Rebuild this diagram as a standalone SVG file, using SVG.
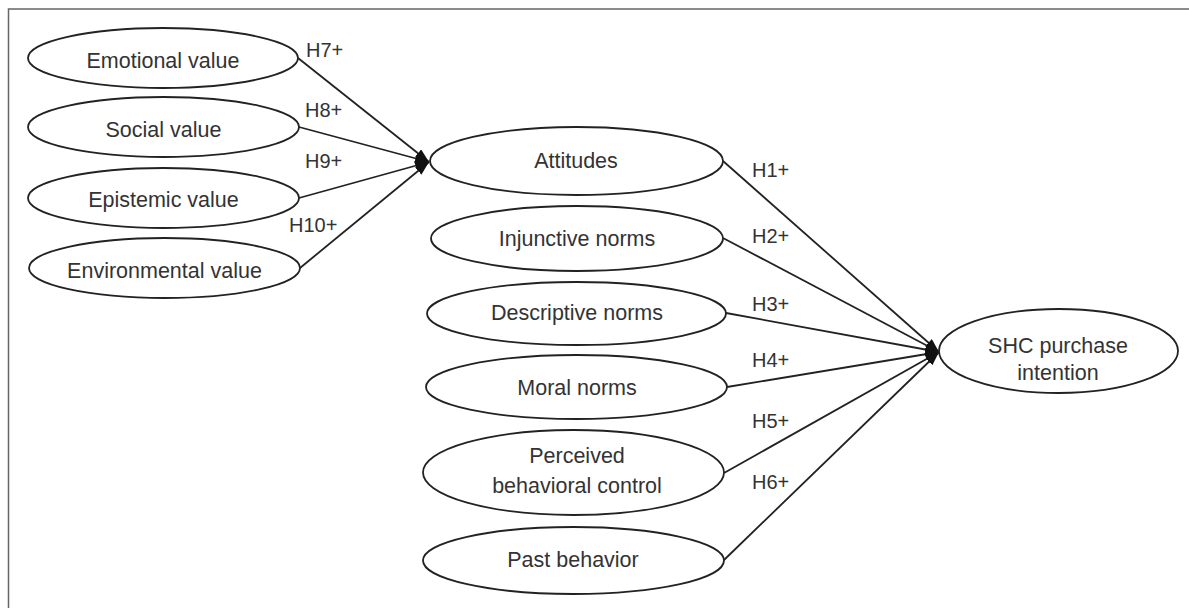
<svg xmlns="http://www.w3.org/2000/svg" width="1189" height="608" viewBox="0 0 1189 608">
<style>
.node ellipse{fill:#fff;stroke:#222;stroke-width:1.8}
.node text{font-family:"Liberation Sans",Arial,sans-serif;font-size:21.5px;fill:#333;text-anchor:middle}
.lbl{font-family:"Liberation Sans",Arial,sans-serif;font-size:20px;fill:#333}
.conn line{stroke:#222;stroke-width:1.8;marker-end:url(#arr)}
</style>
<defs>
<marker id="arr" markerUnits="userSpaceOnUse" markerWidth="16" markerHeight="12" refX="14" refY="5" orient="auto">
<path d="M0,0 L14,5 L0,10 z" fill="#111"/>
</marker>
</defs>
<rect width="1189" height="608" fill="#fff"/>
<rect x="8.5" y="9" width="1200" height="620" fill="none" stroke="#666" stroke-width="1.5"/>
<g id="connectors" class="conn">
<line x1="298" y1="58" x2="429" y2="162"/>
<line x1="299" y1="127" x2="429" y2="162"/>
<line x1="299" y1="198" x2="429" y2="162"/>
<line x1="300" y1="268" x2="429" y2="162"/>
<line x1="723" y1="161" x2="939" y2="352"/>
<line x1="723" y1="238" x2="939" y2="352"/>
<line x1="726" y1="313" x2="939" y2="352"/>
<line x1="727" y1="387" x2="939" y2="352"/>
<line x1="724" y1="473" x2="939" y2="352"/>
<line x1="724" y1="560" x2="939" y2="352"/>
</g>
<g id="labels">
<text class="lbl" x="306" y="57">H7+</text>
<text class="lbl" x="305" y="117">H8+</text>
<text class="lbl" x="305" y="168">H9+</text>
<text class="lbl" x="289" y="232">H10+</text>
<text class="lbl" x="752" y="177">H1+</text>
<text class="lbl" x="752" y="243">H2+</text>
<text class="lbl" x="752" y="311">H3+</text>
<text class="lbl" x="752" y="367">H4+</text>
<text class="lbl" x="752" y="428">H5+</text>
<text class="lbl" x="752" y="489">H6+</text>
</g>
<g id="emotional" class="node"><ellipse cx="163" cy="58" rx="135" ry="30"/><text x="163" y="68">Emotional value</text></g>
<g id="social" class="node"><ellipse cx="163.5" cy="127" rx="135.5" ry="30"/><text x="163.5" y="137">Social value</text></g>
<g id="epistemic" class="node"><ellipse cx="163.5" cy="198" rx="135.5" ry="30"/><text x="163.5" y="207">Epistemic value</text></g>
<g id="environmental" class="node"><ellipse cx="164.5" cy="268" rx="135.5" ry="30"/><text x="164.5" y="278">Environmental value</text></g>
<g id="attitudes" class="node"><ellipse cx="576.5" cy="161" rx="146.5" ry="34"/><text x="576" y="168">Attitudes</text></g>
<g id="injunctive" class="node"><ellipse cx="577" cy="238.5" rx="146" ry="32.5"/><text x="577" y="246">Injunctive norms</text></g>
<g id="descriptive" class="node"><ellipse cx="576.5" cy="313.5" rx="149.5" ry="31.5"/><text x="577" y="320">Descriptive norms</text></g>
<g id="moral" class="node"><ellipse cx="576.5" cy="387" rx="150.5" ry="32"/><text x="577" y="395">Moral norms</text></g>
<g id="pbc" class="node"><ellipse cx="573.5" cy="472.5" rx="150.5" ry="42.5"/><text x="577" y="463">Perceived</text><text x="577" y="493">behavioral control</text></g>
<g id="past" class="node"><ellipse cx="573.5" cy="560.5" rx="150.5" ry="33.5"/><text x="573" y="567">Past behavior</text></g>
<g id="shc" class="node"><ellipse cx="1058.5" cy="351" rx="119.5" ry="42"/><text x="1058" y="353">SHC purchase</text><text x="1058" y="380">intention</text></g>
</svg>
